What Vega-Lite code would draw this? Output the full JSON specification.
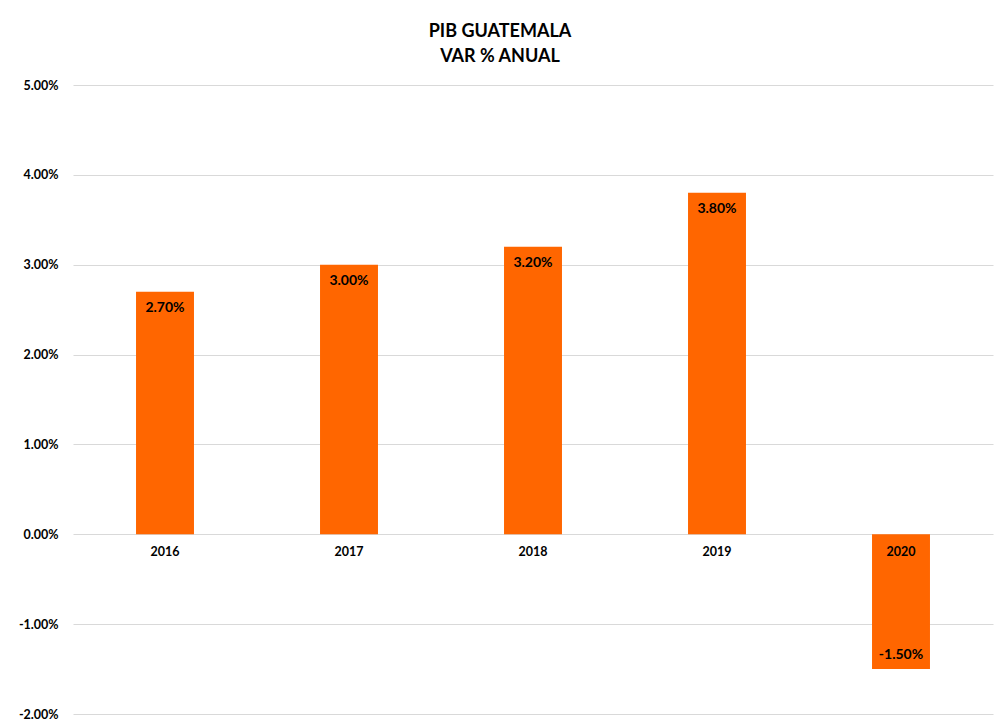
{
  "$schema": "https://vega.github.io/schema/vega-lite/v6.json",
  "width": 920,
  "height": 629,
  "autosize": "none",
  "padding": {"left": 73, "top": 85, "right": 6, "bottom": 14},
  "background": "white",
  "config": {
    "font": "Lato",
    "view": {"stroke": null},
    "locale": {
      "number": {"decimal": ".", "thousands": ",", "grouping": [3], "currency": ["$", ""], "minus": "-"}
    }
  },
  "title": {
    "text": ["PIB GUATEMALA", "VAR % ANUAL"],
    "fontSize": 18,
    "fontWeight": "bold",
    "font": "Lato",
    "color": "#000000",
    "lineHeight": 25,
    "anchor": "middle",
    "frame": "group",
    "dx": -33,
    "offset": 13
  },
  "data": {
    "values": [
      {"year": "2016", "value": 0.027},
      {"year": "2017", "value": 0.030},
      {"year": "2018", "value": 0.032},
      {"year": "2019", "value": 0.038},
      {"year": "2020", "value": -0.015}
    ]
  },
  "encoding": {
    "x": {
      "field": "year",
      "type": "nominal",
      "sort": null,
      "scale": {"paddingInner": 0.685, "paddingOuter": 0.3425},
      "axis": null
    },
    "y": {
      "field": "value",
      "type": "quantitative",
      "scale": {"domain": [-0.02, 0.05], "nice": false, "zero": false},
      "axis": {
        "title": null,
        "format": ".2%",
        "values": [-0.02, -0.01, 0, 0.01, 0.02, 0.03, 0.04, 0.05],
        "domain": false,
        "ticks": false,
        "labelPadding": 15,
        "labelFontSize": 12.5,
        "labelFontWeight": "bold",
        "labelColor": "#000000",
        "labelFont": "Lato",
        "gridColor": "#d9d9d9",
        "gridWidth": 1
      }
    }
  },
  "layer": [
    {
      "mark": {"type": "bar", "color": "#FF6600"}
    },
    {
      "transform": [{"filter": "datum.value >= 0"}],
      "mark": {"type": "text", "baseline": "top", "dy": 9, "fontSize": 14, "fontWeight": "bold", "color": "#000000"},
      "encoding": {"text": {"field": "value", "type": "quantitative", "format": ".2%"}}
    },
    {
      "transform": [{"filter": "datum.value < 0"}],
      "mark": {"type": "text", "baseline": "bottom", "dy": -7, "fontSize": 14, "fontWeight": "bold", "color": "#000000"},
      "encoding": {"text": {"field": "value", "type": "quantitative", "format": ".2%"}}
    },
    {
      "mark": {"type": "text", "baseline": "top", "dy": 12, "fontSize": 12.5, "fontWeight": "bold", "color": "#000000"},
      "encoding": {
        "y": {"datum": 0},
        "text": {"field": "year", "type": "nominal"}
      }
    }
  ]
}
